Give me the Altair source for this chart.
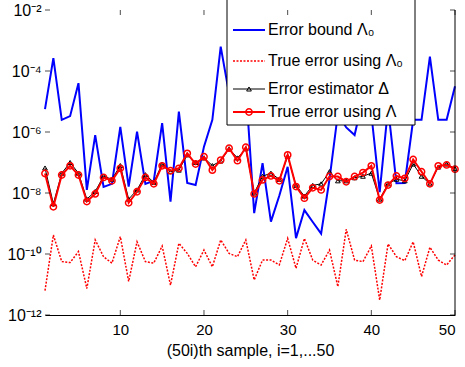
import altair as alt
import pandas as pd

# ---------------- data (log10 of the plotted values) -------------
samples = list(range(1, 51))

bound_A0_log = [-5.25, -3.58, -5.6, -5.48, -4.4, -7.9, -6.1, -7.8, -7.7, -5.83,
                -7.79, -5.99, -7.7, -7.6, -5.71, -8.28, -5.33, -7.67, -7.74, -6.48,
                -5.6, -3.2, -4.75, -4.2, -4.5, -8.66, -7.02, -8.94, -8.09, -7.14,
                -9.48, -8.56, -8.95, -9.33, -7.55, -5.4, -5.85, -6.1, -4.9, -5.4,
                -7.97, -5.2, -7.68, -7.67, -5.6, -5.6, -3.53, -5.6, -5.6, -4.5]

true_A0_log = [-11.2, -9.38, -10.25, -10.28, -9.92, -11.13, -9.54, -10.09, -10.3, -9.43,
               -10.9, -9.6, -10.25, -10.3, -9.74, -11.02, -9.65, -9.98, -10.42, -9.87,
               -10.42, -9.54, -9.98, -10.09, -9.54, -10.85, -10.2, -10.2, -10.36, -9.49,
               -10.47, -9.49, -10.2, -10.36, -9.87, -11.07, -9.19, -10.2, -10.25, -9.74,
               -11.51, -9.67, -10.09, -10.22, -9.6, -10.74, -9.78, -10.2, -10.36, -10.03]

estimator_log = [-7.18, -8.35, -7.35, -7.0, -7.35, -8.2, -7.95, -7.45, -7.55, -7.1,
                 -8.2, -7.9, -7.4, -7.65, -7.05, -7.3, -7.25, -6.75, -7.0, -6.85,
                 -7.1, -6.95, -6.55, -6.85, -6.55, -8.0, -7.45, -7.35, -7.55, -6.8,
                 -7.75, -8.1, -7.75, -7.7, -7.3, -7.6, -7.6, -7.5, -7.45, -7.35,
                 -8.2, -7.7, -7.55, -7.6, -7.05, -7.45, -7.7, -7.15, -7.05, -7.2]

true_A_log = [-7.36, -8.45, -7.41, -7.11, -7.41, -8.28, -8.03, -7.49, -7.6, -7.19,
              -8.32, -7.96, -7.49, -7.7, -7.11, -7.27, -7.19, -6.7, -7.05, -6.81,
              -7.25, -6.92, -6.53, -6.94, -6.5, -8.03, -7.57, -7.44, -7.6, -6.75,
              -7.79, -8.17, -7.83, -7.9, -7.46, -7.46, -7.63, -7.46, -7.33, -7.11,
              -8.23, -7.74, -7.44, -7.52, -6.9, -7.3, -7.7, -7.11, -7.08, -7.22]

x_ticks = [10, 20, 30, 40, 50]
y_ticks = [1e-12, 1e-10, 1e-8, 1e-6, 1e-4, 1e-2]
y_tick_labels = ["10⁻¹²", "10⁻¹⁰", "10⁻⁸", "10⁻⁶", "10⁻⁴", "10⁻²"]
x_title = "(50i)th sample, i=1,...50"
legend_labels = ["Error bound Λ₀", "True error using Λ₀", "Error estimator Δ", "True error using Λ"]

FONT = "Liberation Sans"
W, H = 410, 305


def frame(logs):
    return pd.DataFrame({"i": samples, "v": [10 ** e for e in logs]})


label_expr = "[" + ",".join("'%s'" % s for s in y_tick_labels) + "][round((log(datum.value)/LN10 + 12)/2)]"

X = alt.X("i:Q", scale=alt.Scale(domain=[1, 50], nice=False, zero=False),
          axis=alt.Axis(values=x_ticks, title=x_title, grid=False, tickSize=0,
                        domainColor="black", domainWidth=1, labelPadding=7,
                        titlePadding=5, labelFontSize=15, titleFontSize=16,
                        labelFont=FONT, titleFont=FONT, titleFontWeight="normal",
                        labelColor="black", titleColor="black"))
Y = alt.Y("v:Q", scale=alt.Scale(type="log", domain=[1e-12, 1e-2], nice=False),
          axis=alt.Axis(values=y_ticks, labelExpr=label_expr, title=None, grid=False,
                        tickSize=0, domain=False, labelPadding=4, labelFontSize=16,
                        labelFont=FONT, labelColor="black"))

blue = alt.Chart(frame(bound_A0_log)).mark_line(color="#0000ff", strokeWidth=2).encode(x=X, y=Y)
red_dash = alt.Chart(frame(true_A0_log)).mark_line(color="#ff0000", strokeWidth=1.5,
                                                   strokeDash=[2, 1.5]).encode(x=X, y=Y)
blk_line = alt.Chart(frame(estimator_log)).mark_line(color="black", strokeWidth=1).encode(x=X, y=Y)
blk_pts = alt.Chart(frame(estimator_log)).mark_point(shape="triangle-up", filled=False, color="black",
                                                    size=22, strokeWidth=1, opacity=1).encode(x=X, y=Y)
red_line = alt.Chart(frame(true_A_log)).mark_line(color="#ff0000", strokeWidth=2).encode(x=X, y=Y)
red_pts = alt.Chart(frame(true_A_log)).mark_point(shape="circle", filled=False, color="#ff0000",
                                                  size=40, strokeWidth=1.5, opacity=1).encode(x=X, y=Y)

# inward tick marks and right frame line
xt = pd.DataFrame({"i": x_ticks})
yt = pd.DataFrame({"v": y_ticks})
one = alt.Data(values=[{}])
bot_ticks = alt.Chart(xt).mark_tick(color="black", size=5, thickness=1, orient="vertical").encode(x=X, y=alt.value(H - 2.5))
top_ticks = alt.Chart(xt).mark_tick(color="black", size=5, thickness=1, orient="vertical").encode(x=X, y=alt.value(2.5))
left_ticks = alt.Chart(yt).mark_tick(color="black", size=5, thickness=1, orient="horizontal").encode(y=Y, x=alt.value(2.5))
right_ticks = alt.Chart(yt).mark_tick(color="black", size=5, thickness=1, orient="horizontal").encode(y=Y, x=alt.value(W - 2.5))
right_line = alt.Chart(one).mark_rule(color="black", strokeWidth=1).encode(
    x=alt.value(W), y=alt.value(0), y2=alt.value(H))

# legend box
lx0, lx1 = 182, 370
box = alt.Chart(one).mark_rect(fill="white", stroke="black", strokeWidth=1).encode(
    x=alt.value(lx0), x2=alt.value(lx1), y=alt.value(-12), y2=alt.value(115))
rows = [20, 51, 79, 102]
styles = [
    dict(color="#0000ff", strokeWidth=2),
    dict(color="#ff0000", strokeWidth=1.5, strokeDash=[2, 1.5]),
    dict(color="black", strokeWidth=1),
    dict(color="#ff0000", strokeWidth=2),
]
leg_layers = [box]
for lab, yy, st in zip(legend_labels, rows, styles):
    leg_layers.append(alt.Chart(one).mark_rule(**st).encode(
        x=alt.value(188), x2=alt.value(220), y=alt.value(yy)))
    leg_layers.append(alt.Chart(one).mark_text(text=lab, align="left", baseline="middle",
                                               font=FONT, fontSize=16, color="black").encode(
        x=alt.value(223), y=alt.value(yy)))
leg_layers.append(alt.Chart(one).mark_point(shape="triangle-up", filled=False, color="black",
                                            size=22, strokeWidth=1, opacity=1).encode(
    x=alt.value(204), y=alt.value(rows[2])))
leg_layers.append(alt.Chart(one).mark_point(shape="circle", filled=False, color="#ff0000",
                                            size=40, strokeWidth=1.5, opacity=1).encode(
    x=alt.value(204), y=alt.value(rows[3])))

chart = alt.layer(
    blue, red_dash, blk_line, blk_pts, red_line, red_pts,
    *leg_layers,
    bot_ticks, top_ticks, left_ticks, right_ticks, right_line,
).properties(
    width=W, height=H,
    autosize=alt.AutoSizeParams(type="none"),
    padding={"left": 45, "top": 10, "right": 10, "bottom": 52},
    background="white",
).configure_view(stroke=None)

chart.save("out.html", embed_options={"renderer": "svg", "actions": False})
